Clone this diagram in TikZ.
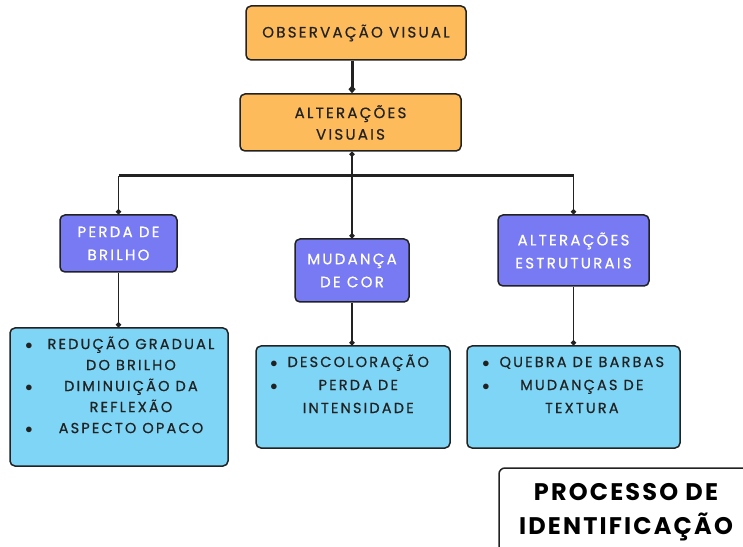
\documentclass[tikz,border=0pt]{standalone}
\usepackage{fontspec}
\setmainfont{Poppins}
\newfontfamily\caixafont[LetterSpace=15, FakeBold=0.7]{Poppins}
\newfontfamily\titulofont[LetterSpace=9]{Poppins}
\usetikzlibrary{arrows.meta, positioning}

\definecolor{laranja}{HTML}{FDBB5B}
\definecolor{roxo}{HTML}{777AF3}
\definecolor{azul}{HTML}{7ED5F6}
\definecolor{borda}{HTML}{222222}

\begin{document}
\begin{tikzpicture}[x=1pt, y=1pt, >=Stealth, thick]
      \tikzstyle{caixaLaranja} = [rectangle, rounded corners=5pt, draw=borda, line width=1.5pt, fill=laranja, inner sep=0pt, align=center, text=borda, font=\caixafont\fontsize{15}{21.5}\selectfont]
      \tikzstyle{caixaRoxa} = [rectangle, rounded corners=5pt, draw=borda, line width=1.5pt, fill=roxo, inner sep=0pt, align=center, text=white, font=\caixafont\fontsize{15}{23}\selectfont]
      \tikzstyle{caixaAzul} = [rectangle, rounded corners=5pt, draw=borda, line width=1.5pt, fill=azul, inner sep=0pt]
      \tikzstyle{lista} = [anchor=north west, inner sep=0pt, text=borda, font=\caixafont\fontsize{14.5}{21}\selectfont]
      \tikzstyle{myLine} = [draw=borda, line width=1.6pt]
      \tikzstyle{barra} = [draw=borda, line width=3pt]
      \tikzstyle{ponto} = [-{Circle[length=5pt]}]

      \useasboundingbox (0,0) rectangle (743,546);

      % Definição de nós
      \node at (356,513) [caixaLaranja, minimum width=220pt, minimum height=54pt] (obs) {OBSERVAÇÃO VISUAL};
      \node at (350.5,423.5) [caixaLaranja, minimum width=221pt, minimum height=57pt] (altvis) {ALTERAÇÕES\\VISUAIS};
      \node at (118.5,302.5) [caixaRoxa, minimum width=117pt, minimum height=57pt] (perda) {PERDA DE\\BRILHO};
      \node at (352,275.5) [caixaRoxa, minimum width=114pt, minimum height=63pt] (mudanca) {MUDANÇA\\DE COR};
      \node at (573.5,295.5) [caixaRoxa, minimum width=151pt, minimum height=71pt] (estrut) {ALTERAÇÕES\\ESTRUTURAIS};

      \node at (119,149) [caixaAzul, minimum width=218pt, minimum height=138pt] (caixa1) {};
      \node at (353,149) [caixaAzul, minimum width=194pt, minimum height=102pt] (caixa2) {};
      \node at (573.5,149) [caixaAzul, minimum width=213pt, minimum height=102pt] (caixa3) {};

      \node [lista] at (25,212) (lista1) {\begin{tabular}{@{}c@{\hspace{15pt}}c@{}}
        $\bullet$ & REDUÇÃO GRADUAL\\ & DO BRILHO\\
        $\bullet$ & DIMINUIÇÃO DA\\ & REFLEXÃO\\
        $\bullet$ & ASPECTO OPACO\end{tabular}};
      \node [lista, font=\caixafont\fontsize{14.5}{23}\selectfont] at (270,195.5) (lista2) {\begin{tabular}{@{}c@{\hspace{10pt}}c@{}}
        $\bullet$ & DESCOLORAÇÃO\\
        $\bullet$ & PERDA DE\\ & INTENSIDADE\end{tabular}};
      \node [lista, font=\caixafont\fontsize{14.5}{23}\selectfont] at (482,195.5) (lista3) {\begin{tabular}{@{}c@{\hspace{10pt}}c@{}}
        $\bullet$ & QUEBRA DE BARBAS\\
        $\bullet$ & MUDANÇAS DE\\ & TEXTURA\end{tabular}};

      % caixa do título, cortada pela margem
      \draw [draw=borda, line width=1.5pt, fill=white, rounded corners=6pt] (499,78) rectangle (770,-20);
      \node at (626,33.5) [align=center, text=black, font=\titulofont\bfseries\fontsize{24}{34}\selectfont] (titulo) {PROCESSO DE\\IDENTIFICAÇÃO};

      \coordinate (meio) at (mudanca.north |- 0,370);
      \coordinate (esq) at (perda.north |- meio);
      \coordinate (dir) at (estrut.north |- meio);

      % Conectores
      \draw [barra, -{Diamond[length=8pt, width=7pt]}] (obs.south -| meio) -- (altvis.north -| meio);
      \draw [myLine, {Circle[length=5pt]}-] (altvis.south -| meio) -- (meio);
      \draw [barra] (esq) -- (dir);
      \draw [myLine, ponto] (esq) -- (perda.north);
      \draw [myLine, ponto] (meio) -- (mudanca.north);
      \draw [myLine, ponto] (dir) -- (estrut.north);
      \draw [myLine, ponto] (perda.south) -- (perda.south |- caixa1.north);
      \draw [myLine, ponto] (mudanca.south) -- (mudanca.south |- caixa2.north);
      \draw [myLine, ponto] (estrut.south) -- (estrut.south |- caixa3.north);

    \end{tikzpicture}
\end{document}
